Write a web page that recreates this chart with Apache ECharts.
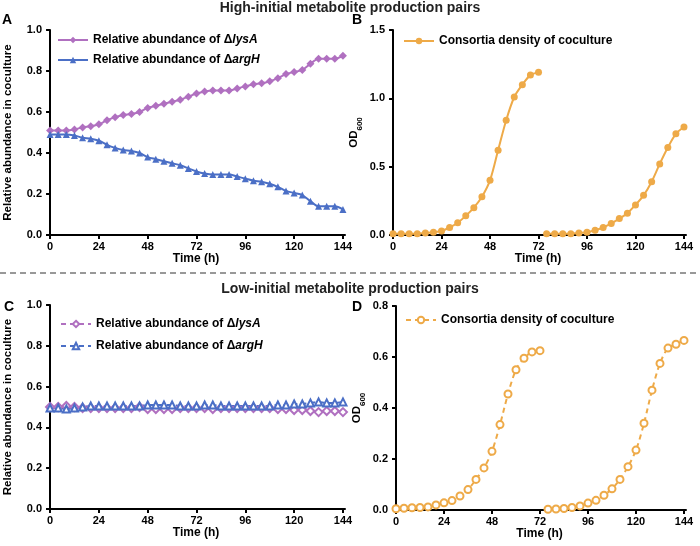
<!DOCTYPE html>
<html><head><meta charset="utf-8">
<script src="https://cdn.jsdelivr.net/npm/echarts@6/dist/echarts.min.js"></script>
<style>html,body{margin:0;padding:0;background:#fff}#c{width:700px;height:546px}</style>
</head><body><div id="c"></div>
<script>
const times = Array.from({length:37},(_,i)=>i*4);
const xTicks = [0,24,48,72,96,120,144];
const lysA_high = [0.51,0.51,0.51,0.515,0.525,0.53,0.54,0.56,0.575,0.585,0.59,0.6,0.62,0.63,0.64,0.65,0.66,0.675,0.69,0.70,0.705,0.705,0.705,0.715,0.725,0.735,0.74,0.75,0.765,0.785,0.795,0.805,0.835,0.86,0.86,0.86,0.875];
const argH_high = [0.49,0.49,0.49,0.485,0.475,0.47,0.46,0.44,0.425,0.415,0.41,0.40,0.38,0.37,0.36,0.35,0.34,0.325,0.31,0.30,0.295,0.295,0.295,0.285,0.275,0.265,0.26,0.25,0.235,0.215,0.205,0.195,0.165,0.14,0.14,0.14,0.125];
const lysA_low = [0.50,0.50,0.505,0.50,0.495,0.495,0.495,0.495,0.495,0.495,0.495,0.50,0.49,0.49,0.49,0.49,0.495,0.495,0.495,0.495,0.49,0.495,0.495,0.495,0.495,0.495,0.495,0.495,0.49,0.49,0.485,0.485,0.48,0.475,0.48,0.48,0.475];
const argH_low = [0.495,0.495,0.49,0.495,0.50,0.505,0.505,0.505,0.505,0.505,0.505,0.505,0.51,0.51,0.51,0.51,0.505,0.505,0.505,0.51,0.51,0.505,0.505,0.505,0.505,0.505,0.505,0.505,0.51,0.51,0.515,0.515,0.52,0.525,0.52,0.52,0.525];
const od_high = [0.01,0.01,0.01,0.01,0.015,0.02,0.03,0.055,0.09,0.14,0.2,0.28,0.4,0.62,0.84,1.01,1.1,1.17,1.19,
  null,0.01,0.01,0.01,0.01,0.015,0.02,0.035,0.055,0.085,0.12,0.16,0.22,0.29,0.39,0.52,0.64,0.74,0.79];
const od_low = [0.005,0.007,0.009,0.01,0.012,0.02,0.028,0.037,0.055,0.08,0.12,0.165,0.23,0.335,0.455,0.55,0.595,0.62,0.625,
  null,0.003,0.004,0.006,0.01,0.016,0.027,0.038,0.058,0.083,0.12,0.17,0.235,0.34,0.47,0.575,0.635,0.65,0.665];
const odTimes = [...Array.from({length:19},(_,i)=>i*4), 74, ...Array.from({length:18},(_,i)=>76+i*4)];

const PURPLE='#b070c0', BLUE='#4b6fc6', ORANGE='#eeaa48';
const F='Liberation Sans';
const pair=(xs,ys)=>xs.map((x,i)=>[x,ys[i]]);

const grids=[
 {left:47,top:30,width:298,height:205},
 {left:390,top:30,width:296,height:205},
 {left:47,top:305,width:298,height:204},
 {left:393,top:306,width:293,height:204}
];
const xAxes=grids.map((g,i)=>({type:'value',gridIndex:i,min:-1.5,max:145,interval:24,
  name:'Time (h)',nameLocation:'middle',nameGap:17,nameTextStyle:{fontFamily:F,fontWeight:'bold',fontSize:12,color:'#000'},
  axisLine:{lineStyle:{color:'#000',width:2}},axisTick:{length:4,lineStyle:{width:2},customValues:xTicks},
  axisLabel:{fontFamily:F,fontWeight:'bold',fontSize:11,color:'#000',margin:6,customValues:xTicks},splitLine:{show:false}}));
const yCommon=(i,max,interval,name)=>({type:'value',gridIndex:i,min:0,max:max,interval:interval,
  name:name,nameLocation:'middle',nameRotate:90,nameGap:i%2?30:33,
  nameTextStyle:{fontFamily:F,fontWeight:'bold',fontSize:11.5,color:'#000',rich:{s:{fontFamily:F,fontWeight:'bold',fontSize:8,color:'#000',verticalAlign:'bottom',padding:[0,0,-4,0]}}},
  axisLine:{show:true,lineStyle:{color:'#000',width:2}},axisTick:{show:true,length:4,lineStyle:{width:2}},
  axisLabel:{fontFamily:F,fontWeight:'bold',fontSize:11,color:'#000',margin:5,formatter:v=>v.toFixed(1)},splitLine:{show:false}});
const yAxes=[yCommon(0,1,0.2,'Relative abundance in coculture'),yCommon(1,1.5,0.5,'OD{s|600}'),
  yCommon(2,1,0.2,'Relative abundance in coculture'),yCommon(3,0.8,0.2,'OD{s|600}')];

const ser=(name,i,data,color,sym,dashed,size)=>({name,type:'line',xAxisIndex:i,yAxisIndex:i,data,smooth:0.3,
  symbol:sym,symbolSize:size||7,connectNulls:false,
  lineStyle:{color,width:2,type:dashed?[5,4]:'solid'},itemStyle:{color,borderColor:color,borderWidth:dashed?1.3:0},
  emphasis:{disabled:true}});

const legTxt={fontFamily:F,fontWeight:'bold',fontSize:12,color:'#000',rich:{i:{fontFamily:F,fontWeight:'bold',fontStyle:'italic',fontSize:12,color:'#000'}}};
const fmt=n=>{const m=n.match(/^(.*Δ)(.*)$/);return m?m[1]+'{i|'+m[2]+'}':n;};
const mkLeg=(data,left,top,gap)=>({data,left,top,orient:'vertical',itemGap:gap,itemWidth:30,itemHeight:8,textStyle:legTxt,formatter:fmt,selectedMode:false});

const option={animation:false,
 grid:grids,xAxis:xAxes,yAxis:yAxes,
 legend:[
  mkLeg(['Relative abundance of ΔlysA','Relative abundance of ΔargH'],52,29,8),
  mkLeg(['Consortia density of coculture'],398,30,8),
  mkLeg(['Relative abundance of ΔlysA ','Relative abundance of ΔargH '],55,313,10),
  mkLeg(['Consortia density of coculture '],400,309,8)
 ],
 series:[
  ser('Relative abundance of ΔlysA',0,pair(times,lysA_high),PURPLE,'diamond',false,8),
  ser('Relative abundance of ΔargH',0,pair(times,argH_high),BLUE,'triangle',false,7),
  ser('Consortia density of coculture',1,pair(odTimes,od_high),ORANGE,'circle',false,7),
  ser('Relative abundance of ΔlysA ',2,pair(times,lysA_low),PURPLE,'emptyDiamond',true,8),
  ser('Relative abundance of ΔargH ',2,pair(times,argH_low),BLUE,'emptyTriangle',true,7),
  ser('Consortia density of coculture ',3,pair(odTimes,od_low),ORANGE,'emptyCircle',true,7)
 ],
 graphic:[
  {type:'text',left:'center',top:1,style:{text:'High-initial metabolite production pairs',font:'bold 14px "Liberation Sans"',fill:'#222'}},
  {type:'text',left:'center',top:282,style:{text:'Low-initial metabolite production pairs',font:'bold 14px "Liberation Sans"',fill:'#222'}},
  {type:'line',shape:{x1:0,y1:273,x2:700,y2:273},style:{stroke:'#333',lineWidth:1,lineDash:[6,4]}},
  {type:'text',left:2,top:13,style:{text:'A',font:'bold 14px "Liberation Sans"',fill:'#000'}},
  {type:'text',left:352,top:13,style:{text:'B',font:'bold 14px "Liberation Sans"',fill:'#000'}},
  {type:'text',left:4,top:300,style:{text:'C',font:'bold 14px "Liberation Sans"',fill:'#000'}},
  {type:'text',left:352,top:300,style:{text:'D',font:'bold 14px "Liberation Sans"',fill:'#000'}}
 ]
};
echarts.init(document.getElementById('c')).setOption(option);
</script></body></html>
